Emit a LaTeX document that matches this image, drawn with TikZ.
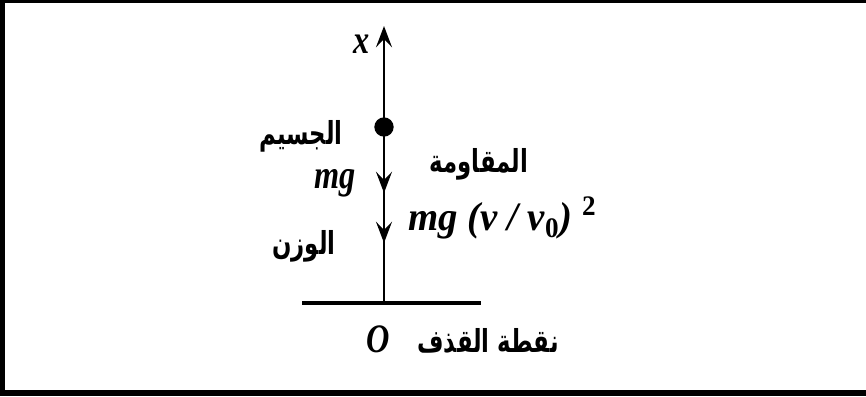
\documentclass[tikz,border=0pt]{standalone}
\usepackage{fontspec}
\setmainfont{Liberation Serif}
\newfontfamily\arabicfont[Script=Arabic]{DejaVu Sans}
\TeXXeTstate=1
\usetikzlibrary{arrows.meta}

\begin{document}
\begin{tikzpicture}[x=0.02cm, y=-0.02cm,
    mathlbl/.style={font=\fontsize{23}{25}\selectfont\bfseries\itshape, xscale=0.8, inner sep=0pt},
    arlbl/.style={font=\fontsize{18}{20}\selectfont\arabicfont\bfseries, xscale=0.72, inner sep=0pt},
    force/.style={line width=1.6pt, -{Stealth[length=12pt, width=9pt, inset=4.5pt]}},
    dot/.style={circle, fill, inner sep=0pt, minimum size=11pt}]
    \useasboundingbox (0,0) rectangle (866,396);

    % Frame
    \draw[line width=1.7pt] (0,1.5) -- (866,1.5);
    \draw[line width=2.8pt] (2.5,0) -- (2.5,396);
    \draw[line width=3.4pt] (0,393) -- (866,393);

    % Ground and x axis
    \coordinate (o) at (384,303);
    \coordinate (xend) at (384,26);
    \draw[line width=2.3pt] (302,303) -- (481,303);
    \draw[force] (o) -- (xend);
    \node[mathlbl] (xlbl) at (362,44) {x};

    % Particle and forces
    \node[dot] (particle) at (384,127) {};
    \coordinate (wtip) at (384,193);
    \coordinate (rtip) at (384,243);
    \draw[force] (particle) -- (wtip);
    \draw[force] (wtip) -- (rtip);

    % Labels
    \node[arlbl] (particlelbl) at (301,136) {\beginR الجسيم\endR};
    \node[mathlbl] (mglbl) at (335,183) {mg};
    \node[arlbl] (resistlbl) at (479,164) {\beginR المقاومة\endR};
    \node[mathlbl, xscale=1.2, anchor=west] (resistval) at (408,218)
        {mg (v / v\textsubscript{\upshape 0})~\textsuperscript{\upshape 2}};
    \node[arlbl] (weightlbl) at (304,246) {\beginR الوزن\endR};
    \node[mathlbl] (olbl) at (378,339) {O};
    \node[arlbl] (launchlbl) at (488,341) {\beginR نقطة القذف\endR};
\end{tikzpicture}
\end{document}
